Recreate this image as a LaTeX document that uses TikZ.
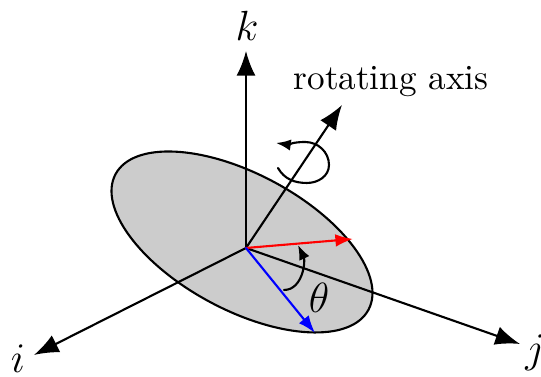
\documentclass[tikz,border=0pt]{standalone}
\usetikzlibrary{arrows.meta}

\begin{document}
\begin{tikzpicture}[
        x=0.01cm, y=0.01cm,
        >=Latex,
        line cap=round,
        axis arrow/.style={-{Latex[length=7pt, width=5.4pt]}, line width=0.6pt},
        vector arrow/.style={-{Latex[length=5pt, width=3.6pt]}, line width=0.6pt},
        turn arrow/.style={-{Latex[length=4.2pt, width=3.2pt]}, line width=0.6pt},
        disc/.style={fill=black!20, draw=black, line width=0.6pt},
        axis label/.style={font=\large, anchor=base, inner sep=0pt},
        text label/.style={anchor=base, inner sep=0pt},
    ]
    \useasboundingbox (0,0) rectangle (541,377);

    % The tilted disc.
    \draw[disc, rotate around={-28.2:(242,135)}] (242,135) ellipse [x radius=143.5, y radius=68];

    % Origin and axis ends.
    \coordinate (O) at (246,129);
    \coordinate (ktip) at (246,326);
    \coordinate (itip) at (34,22);
    \coordinate (jtip) at (520,33);
    \coordinate (rtip) at (342,272);

    \draw[axis arrow] (O) -- (ktip);
    \draw[axis arrow] (O) -- (itip);
    \draw[axis arrow] (O) -- (jtip);
    \draw[axis arrow] (O) -- (rtip);

    \node[axis label] (k) at (247,336) {$k$};
    \node[axis label] (i) at (18,4) {$i$};
    \node[axis label] (j) at (535,14) {$j$};
    \node[text label] (rot) at (391,287) {rotating axis};

    % Vectors in the disc.
    \coordinate (red end) at (353,138);
    \coordinate (blue end) at (315,44);
    \draw[vector arrow, red] (O) -- (red end);
    \draw[vector arrow, blue] (O) -- (blue end);

    % Angle and spin.
    \draw[turn arrow] (284,87) to[out=0, in=-65] (298,132);
    \node[axis label] (theta) at (319,64) {$\theta$};
    \draw[turn arrow] (278,209) to[out=-60, in=180] (307,194)
        to[out=0, in=-90] (329,212) to[out=90, in=0] (305,235) to[out=180, in=-8] (276,234);
\end{tikzpicture}
\end{document}
